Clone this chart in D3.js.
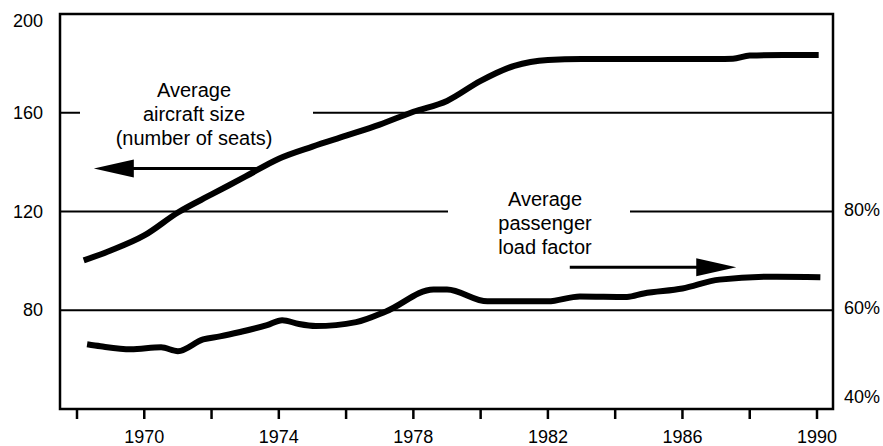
<!DOCTYPE html>
<html>
<head>
<meta charset="utf-8">
<script src="https://cdn.jsdelivr.net/npm/d3@7/dist/d3.min.js"></script>
<style>
  html, body { margin: 0; padding: 0; background: #fff; }
  svg text { font-family: "Liberation Sans", Arial, Helvetica, sans-serif; fill: #000; }
</style>
</head>
<body>
<script>
// ---- Data ----
const seatYears = [1968.2, 1969, 1970, 1971, 1972, 1973, 1974, 1975, 1976, 1977, 1978, 1979, 1980, 1981, 1982, 1983, 1984, 1985, 1986, 1987, 1987.5, 1988, 1989, 1990.05];
const seatValues = [100.2, 104.2, 110.3, 119.6, 126.9, 134.1, 141.4, 146.3, 150.7, 155.2, 160.4, 164.8, 172.9, 179.0, 181.4, 181.8, 181.8, 181.8, 181.8, 181.8, 181.9, 183.2, 183.4, 183.4];

const loadYears = [1968.3, 1968.7, 1969.6, 1970.5, 1971.0, 1971.75, 1972.25, 1972.85, 1973.65, 1974.1, 1974.6, 1975.1, 1976.3, 1977.2, 1978.6, 1979.0, 1980.2, 1982.0, 1982.95, 1984.35, 1984.85, 1986.0, 1987.1, 1988.8, 1990.1];
const loadValues = [53.1, 52.7, 52.1, 52.5, 51.7, 54.1, 54.7, 55.6, 57.0, 58.0, 57.2, 56.8, 57.6, 59.8, 64.2, 64.2, 61.8, 61.8, 62.8, 62.7, 63.4, 64.4, 66.2, 66.8, 66.7];

const xTickYears = [1968, 1970, 1972, 1974, 1976, 1978, 1980, 1982, 1984, 1986, 1988, 1990];
const xLabelYears = [1970, 1974, 1978, 1982, 1986, 1990];
const leftTickValues = [200, 160, 120, 80];
const rightTickValues = [80, 60, 40];
const rightTickLabels = ["80%", "60%", "40%"];
const seatLabel = ["Average", "aircraft size", "(number of seats)"];
const loadLabel = ["Average", "passenger", "load factor"];

// ---- Layout ----
const W = 883, H = 446;
const L = 60, R = 833, T = 14, B = 409;

const svg = d3.select("body").append("svg").attr("width", W).attr("height", H);
svg.append("rect").attr("width", W).attr("height", H).attr("fill", "#fff");

const x = d3.scaleLinear().domain([1968, 1990]).range([77, 817]);
const yL = d3.scaleLinear().domain([40, 200]).range([B, T]);
const yR = d3.scaleLinear().domain([40, 120]).range([B, T]); // percent

// Gridlines (with gaps for annotations)
const grid = svg.append("g").attr("stroke", "#000").attr("stroke-width", 2).attr("fill", "none");
// 160: short tick at left + segment to right
grid.append("line").attr("x1", L).attr("x2", L + 20).attr("y1", yL(160)).attr("y2", yL(160));
grid.append("line").attr("x1", 313).attr("x2", R).attr("y1", yL(160)).attr("y2", yL(160));
// 120 / 80%
grid.append("line").attr("x1", L).attr("x2", 448).attr("y1", yL(120)).attr("y2", yL(120));
grid.append("line").attr("x1", 630).attr("x2", R).attr("y1", yL(120)).attr("y2", yL(120));
// 80 / 60%
grid.append("line").attr("x1", L).attr("x2", R).attr("y1", yL(80)).attr("y2", yL(80));

// Frame
svg.append("rect").attr("x", L).attr("y", T).attr("width", R - L).attr("height", B - T)
  .attr("fill", "none").attr("stroke", "#000").attr("stroke-width", 2.5);

// X ticks
svg.append("g").selectAll("line").data(xTickYears).join("line")
  .attr("x1", d => x(d)).attr("x2", d => x(d)).attr("y1", B).attr("y2", B + 10)
  .attr("stroke", "#000").attr("stroke-width", 2.5);
svg.append("g").selectAll("text").data(xLabelYears).join("text")
  .attr("x", d => x(d)).attr("y", 443).attr("text-anchor", "middle")
  .attr("font-size", 18).text(d => d);

// Left labels
svg.append("g").selectAll("text").data(leftTickValues).join("text")
  .attr("x", 43).attr("y", d => d === 200 ? yL(d) + 13 : yL(d) + 6)
  .attr("text-anchor", "end").attr("font-size", 18).text(d => d);

// Right labels
svg.append("g").selectAll("text").data(rightTickValues).join("text")
  .attr("x", 844).attr("y", (d, i) => d === 40 ? yR(d) - 6 : yR(d) + 4)
  .attr("text-anchor", "start").attr("font-size", 18).text((d, i) => rightTickLabels[i]);

// Data lines
const seatLine = d3.line().x(d => x(d[0])).y(d => yL(d[1])).curve(d3.curveMonotoneX);
svg.append("path").datum(seatYears.map((yr, i) => [yr, seatValues[i]]))
  .attr("d", seatLine).attr("fill", "none").attr("stroke", "#000")
  .attr("stroke-width", 6).attr("stroke-linejoin", "round");

const loadLine = d3.line().x(d => x(d[0])).y(d => yR(d[1])).curve(d3.curveMonotoneX);
svg.append("path").datum(loadYears.map((yr, i) => [yr, loadValues[i]]))
  .attr("d", loadLine).attr("fill", "none").attr("stroke", "#000")
  .attr("stroke-width", 6).attr("stroke-linejoin", "round");

// Annotations
function block(lines, cx, y0) {
  svg.append("g").selectAll("text").data(lines).join("text")
    .attr("x", cx).attr("y", (d, i) => y0 + i * 24)
    .attr("text-anchor", "middle").attr("font-size", 20).text(d => d);
}
block(seatLabel, 194, 97);
block(loadLabel, 545, 206);

function arrow(x1, x2, yy) {
  // x1 tail, x2 tip
  const dir = Math.sign(x2 - x1);
  const headLen = 40, half = 9;
  svg.append("line").attr("x1", x1).attr("x2", x2 - dir * headLen + dir * 2).attr("y1", yy).attr("y2", yy)
    .attr("stroke", "#000").attr("stroke-width", 3);
  svg.append("path")
    .attr("d", `M${x2},${yy} L${x2 - dir * headLen},${yy - half} L${x2 - dir * headLen},${yy + half} Z`)
    .attr("fill", "#000");
}
// Arrow pointing left toward the seats axis
arrow(x(1973.45), x(1968.5), yL(137.4));
// Arrow pointing right toward the percent axis
arrow(x(1982.65), x(1987.6), yR(68.7));
</script>
</body>
</html>
